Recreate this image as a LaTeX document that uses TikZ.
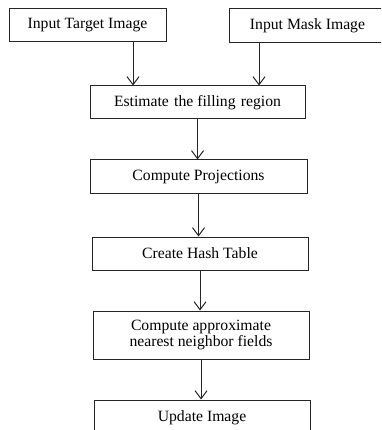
\documentclass[tikz,border=0pt]{standalone}
\usepackage{fontspec}
\setmainfont{Liberation Serif}
\usetikzlibrary{arrows.meta}
\begin{document}
\begin{tikzpicture}[x=1pt,y=-1pt,
  box/.style={draw=black!85, line width=1pt, rectangle, inner sep=0pt, align=center,
    font=\fontsize{15.7}{16}\selectfont},
  arr/.style={draw=black!85, line width=1pt, -{Straight Barb[length=8pt,width=12pt,line width=1pt]}}]
\useasboundingbox (0,0) rectangle (381,430);
\clip (0,0) rectangle (381,430);
\node[box, minimum width=157pt, minimum height=33pt] (b1) at (87.5,25.5) {Input Target Image};
\node[box, minimum width=157pt, minimum height=34pt] (b2) at (307.5,26) {Input Mask Image};
\node[box, minimum width=215pt, minimum height=33pt] (b3) at (197.5,102.5) {Estimate\,\,the filling\,\,region};
\node[box, minimum width=217pt, minimum height=33pt] (b4) at (198.5,176.5) {Compute Projections};
\node[box, minimum width=216pt, minimum height=33pt] (b5) at (200,253.5) {Create Hash Table};
\node[box, minimum width=216pt, minimum height=48pt] (b6) at (201,335) {Compute approximate\\nearest neighbor fields};
\node[box, minimum width=216pt, minimum height=36pt] (b7) at (202,418) {Update Image};
\coordinate (x1) at (133,0);
\coordinate (x2) at (259,0);
\draw[arr] (b1.south -| x1) -- (b3.north -| x1);
\draw[arr] (b2.south -| x2) -- (b3.north -| x2);
\draw[arr] (b3.south) -- (b3.south |- b4.north);
\draw[arr] (b4.south) -- (b4.south |- b5.north);
\draw[arr] (b5.south) -- (b5.south |- b6.north);
\draw[arr] (b6.south) -- (b6.south |- b7.north);
\end{tikzpicture}
\end{document}
